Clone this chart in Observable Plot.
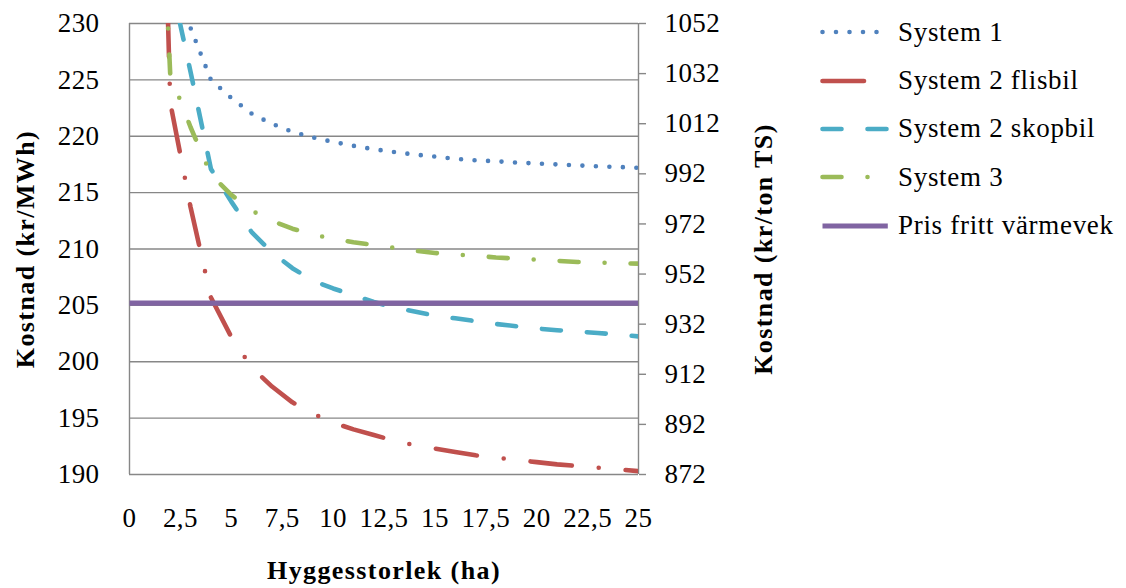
<!DOCTYPE html>
<html>
<head>
<meta charset="utf-8">
<script src="https://cdn.jsdelivr.net/npm/d3@7"></script>
<script src="https://cdn.jsdelivr.net/npm/@observablehq/plot@0.6"></script>
<style>
  body { margin: 0; background: #fff; }
  #wrap { position: relative; width: 1126px; height: 588px; font-family: "Liberation Serif", Tinos, "Times New Roman", "DejaVu Serif", serif; }
  #chart svg { display: block; }
  #chart g[aria-label="text"] text { letter-spacing: 1.4px; }
  #chart g[aria-label$="tick label"] text { letter-spacing: 0.4px; }
  #legend { position: absolute; left: 818px; top: 8px; }
  .row { display: flex; align-items: center; height: 48.4px; }
  .row span { font-size: 27px; letter-spacing: 0.7px; margin-left: 6px; color: #000; white-space: nowrap; line-height: 1; }
</style>
</head>
<body>
<div id="wrap"><div id="chart"></div><div id="legend"></div></div>
<script>
// ---- data ----
const hectares = [1, 2, 3, 4, 5, 6, 7, 8, 9, 10, 11, 12, 13, 14, 15, 16, 17, 18, 19, 20, 21, 22, 23, 24, 25];
const system1 = [258, 237, 229.6, 225.0, 223.4, 222.0, 221.1, 220.4, 219.9, 219.5, 219.15, 218.85, 218.6, 218.38, 218.2, 218.0, 217.87, 217.78, 217.67, 217.58, 217.5, 217.42, 217.33, 217.28, 217.2];
const system2Flisbil = [290, 223, 213.7, 205.7, 202.2, 199.5, 197.8, 196.4, 195.4, 194.6, 194.0, 193.5, 193.0, 192.6, 192.3, 192.0, 191.7, 191.5, 191.3, 191.1, 190.9, 190.75, 190.6, 190.45, 190.3];
const system2Skopbil = [270, 234, 225.7, 217.1, 214.2, 211.5, 209.7, 208.3, 207.2, 206.5, 205.9, 205.3, 204.8, 204.45, 204.1, 203.85, 203.6, 203.35, 203.15, 202.95, 202.8, 202.68, 202.55, 202.4, 202.25];
const system3 = [265, 225.5, 220.8, 216.6, 214.8, 213.4, 212.5, 211.8, 211.3, 210.9, 210.6, 210.35, 210.1, 209.85, 209.65, 209.5, 209.4, 209.25, 209.15, 209.05, 208.95, 208.85, 208.8, 208.75, 208.7];
const priceHectares = [0, 25];
const priceValues = [205.2, 205.2];

const seriesNames = ["System 1", "System 2 flisbil", "System 2 skopbil", "System 3", "Pris fritt värmevek"];
const xTicks = [0, 2.5, 5, 7.5, 10, 12.5, 15, 17.5, 20, 22.5, 25];
const leftTicks = [190, 195, 200, 205, 210, 215, 220, 225, 230];
const rightTicks = [872, 892, 912, 932, 952, 972, 992, 1012, 1032, 1052];
const xDomain = [0, 25];
const leftDomain = [190, 230];
const rightDomain = [872, 1052];
const xTitle = "Hyggesstorlek (ha)";
const leftTitle = "Kostnad (kr/MWh)";
const rightTitle = "Kostnad (kr/ton TS)";

// ---- styles ----
const fontStack = "'Liberation Serif', Tinos, 'Times New Roman', 'DejaVu Serif', serif";
const styles = [
  {color: "#4F81BD", dash: "0 13.5", width: 4.6},
  {color: "#C0504D", dash: "41.5 27 0 27", width: 4.6},
  {color: "#4BACC6", dash: "19 26", width: 4.6},
  {color: "#9BBB59", dash: "19 26 0 26", width: 4.6},
  {color: "#8064A2", dash: null, width: 5.2}
];
const gridColor = "#878787";

const toTable = (xs, ys) => xs.map((x, i) => ({x, y: ys[i]}));
const tables = [
  toTable(hectares, system1),
  toTable(hectares, system2Flisbil),
  toTable(hectares, system2Skopbil),
  toTable(hectares, system3),
  toTable(priceHectares, priceValues)
];

const ratio = (leftDomain[1] - leftDomain[0]) / (rightDomain[1] - rightDomain[0]);
const rightToLeft = r => leftDomain[0] + (r - rightDomain[0]) * ratio;
const leftToRight = l => String(Math.round(rightDomain[0] + (l - leftDomain[0]) / ratio));

const lineMarks = tables.map((t, i) => Plot.line(t, {
  x: "x", y: "y",
  stroke: styles[i].color,
  strokeWidth: styles[i].width,
  strokeDasharray: styles[i].dash,
  strokeLinecap: i === 4 ? "butt" : "round",
  strokeLinejoin: "round",
  curve: "linear",
  clip: true
}));

const chart = Plot.plot({
  width: 1126,
  height: 588,
  marginLeft: 129,
  marginRight: 488,
  marginTop: 23,
  marginBottom: 114,
  x: {domain: xDomain, label: null},
  y: {domain: leftDomain, label: null},
  style: {fontFamily: fontStack, fontSize: "27px", color: "#000", background: "#fff", overflow: "visible"},
  marks: [
    Plot.gridY(leftTicks, {stroke: gridColor, strokeOpacity: 1, strokeWidth: 1.4}),
    Plot.ruleX(xDomain, {stroke: gridColor, strokeWidth: 1.4}),
    Plot.axisX(xTicks, {tickSize: 0, tickPadding: 33, label: null, tickFormat: d => String(d).replace(".", ",")}),
    Plot.axisY(leftTicks, {anchor: "left", tickSize: 0, tickPadding: 30, label: null, tickFormat: d => String(d)}),
    Plot.axisY(rightTicks.map(rightToLeft), {anchor: "right", tickSize: 7, tickPadding: 19, stroke: gridColor, strokeWidth: 1.4, label: null, tickFormat: leftToRight}),
    ...lineMarks,
    Plot.text([leftTitle], {text: d => d, frameAnchor: "left", textAnchor: "middle", dx: -104, rotate: -90, fontWeight: "bold", fontSize: 26}),
    Plot.text([rightTitle], {text: d => d, frameAnchor: "right", textAnchor: "middle", dx: 125, rotate: -90, fontWeight: "bold", fontSize: 26}),
    Plot.text([xTitle], {text: d => d, frameAnchor: "bottom", textAnchor: "middle", dy: 104, fontWeight: "bold", fontSize: 26})
  ]
});
document.getElementById("chart").appendChild(chart);

// ---- legend ----
const legend = d3.select("#legend");
seriesNames.forEach((name, i) => {
  const row = legend.append("div").attr("class", "row");
  const svg = row.append("svg").attr("width", 74).attr("height", 12);
  svg.append("line")
    .attr("x1", 4.5).attr("x2", 69.8).attr("y1", 6).attr("y2", 6)
    .attr("stroke", styles[i].color)
    .attr("stroke-width", styles[i].width)
    .attr("stroke-dasharray", styles[i].dash)
    .attr("stroke-linecap", i === 4 ? "butt" : "round");
  row.append("span").text(name);
});
</script>
</body>
</html>
